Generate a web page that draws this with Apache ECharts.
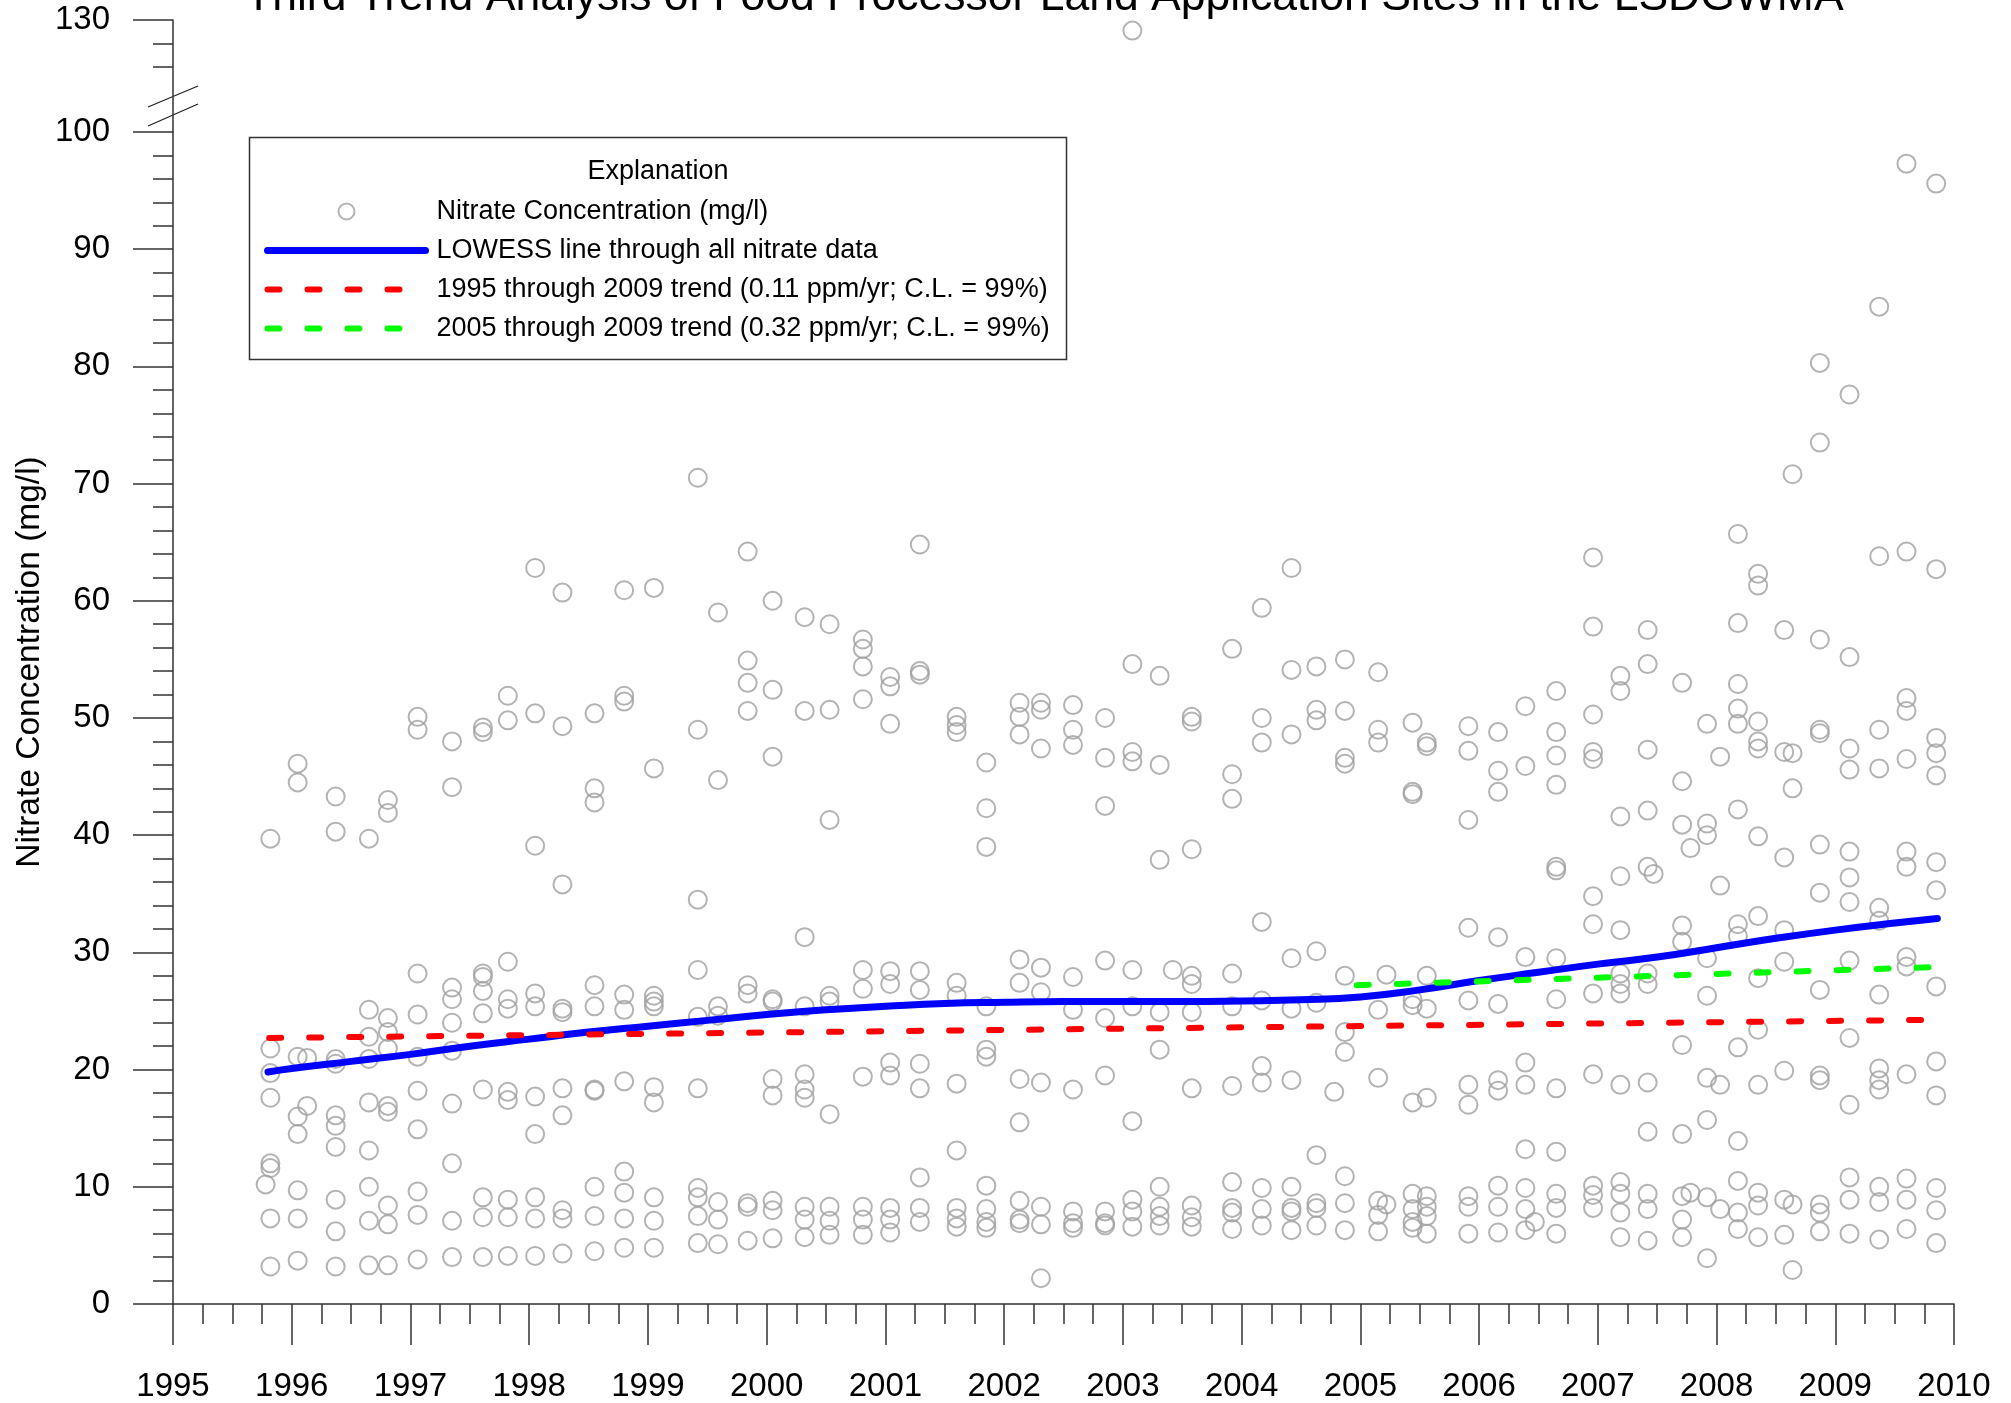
<!DOCTYPE html>
<html><head><meta charset="utf-8">
<script src="https://cdn.jsdelivr.net/npm/echarts@6/dist/echarts.min.js"></script>
<style>html,body{margin:0;padding:0;background:#fff}#c{width:2011px;height:1403px}</style>
</head><body><div id="c"></div>
<script>
// ---- data (decimal year of sampling round, nitrate values mg/l) ----
const sampleDates = [
  1995.78, 1995.82, 1996.05, 1996.13, 1996.37, 1996.65, 1996.81, 1997.06, 1997.35, 1997.61,
  1997.82, 1998.05, 1998.28, 1998.55, 1998.80, 1999.05, 1999.42, 1999.59, 1999.84, 2000.05,
  2000.32, 2000.53, 2000.81, 2001.04, 2001.29, 2001.60, 2001.85, 2002.13, 2002.31, 2002.58,
  2002.85, 2003.08, 2003.31, 2003.42, 2003.58, 2003.92, 2004.17, 2004.42, 2004.63, 2004.78,
  2004.87, 2005.15, 2005.22, 2005.44, 2005.56, 2005.91, 2006.16, 2006.39, 2006.47, 2006.65,
  2006.96, 2007.19, 2007.42, 2007.47, 2007.71, 2007.78, 2007.92, 2008.03, 2008.18, 2008.35,
  2008.57, 2008.64, 2008.87, 2009.12, 2009.37, 2009.60, 2009.85
];
const nitrateValues = [
  [10.2],
  [39.7, 21.8, 19.7, 17.6, 12.0, 11.6, 7.3, 3.2],
  [46.1, 44.5, 21.1, 16.0, 14.5, 9.7, 7.3, 3.7],
  [21.0, 16.9],
  [43.3, 40.3, 20.9, 20.5, 16.1, 15.2, 13.4, 8.9, 6.2, 3.2],
  [39.7, 25.1, 22.8, 20.9, 17.2, 13.1, 10.0, 7.1, 3.3],
  [43.0, 41.9, 24.4, 23.2, 21.8, 16.9, 16.4, 8.4, 6.8, 3.3],
  [50.1, 49.0, 28.2, 24.7, 21.1, 18.2, 14.9, 9.6, 7.6, 3.8],
  [48.0, 44.1, 27.0, 26.0, 24.0, 21.6, 17.1, 12.0, 7.1, 4.0],
  [49.2, 48.8, 28.2, 27.9, 26.7, 24.8, 18.3, 9.1, 7.4, 4.0],
  [51.9, 49.8, 29.2, 26.0, 25.2, 18.1, 17.4, 8.9, 7.4, 4.1],
  [62.8, 50.4, 39.1, 26.5, 25.4, 17.7, 14.5, 9.1, 7.3, 4.1],
  [60.7, 49.3, 35.8, 25.2, 24.9, 18.4, 16.1, 8.0, 7.3, 4.3],
  [50.4, 44.0, 42.8, 27.2, 25.4, 18.3, 18.2, 10.0, 7.5, 4.5],
  [60.9, 51.9, 51.4, 26.4, 25.1, 19.0, 11.3, 9.5, 7.3, 4.8],
  [61.1, 45.7, 26.3, 25.8, 25.4, 18.5, 17.2, 9.1, 7.1, 4.8],
  [70.5, 49.0, 34.5, 28.5, 24.5, 18.4, 9.9, 9.1, 7.5, 5.2],
  [59.0, 44.7, 25.4, 24.6, 8.7, 7.2, 5.1],
  [64.2, 54.9, 53.0, 50.6, 27.2, 26.5, 8.6, 8.3, 5.4],
  [60.0, 52.4, 46.7, 26.0, 25.8, 19.2, 17.8, 8.8, 8.0, 5.6],
  [58.6, 50.6, 31.3, 25.4, 19.6, 18.3, 17.6, 8.3, 7.2, 5.7],
  [58.0, 50.7, 41.3, 26.3, 25.8, 16.2, 8.3, 7.1, 5.9],
  [56.7, 55.9, 54.4, 51.6, 28.5, 26.9, 19.4, 8.3, 7.2, 5.9],
  [53.5, 52.7, 49.5, 28.4, 27.3, 20.6, 19.5, 8.2, 7.2, 6.1],
  [64.8, 54.0, 53.7, 28.4, 26.8, 20.5, 18.4, 10.8, 8.2, 7.0],
  [50.1, 49.4, 48.8, 27.4, 26.3, 18.8, 13.1, 8.2, 7.3, 6.6],
  [46.2, 42.3, 39.0, 25.4, 21.7, 21.1, 10.1, 8.1, 7.0, 6.5],
  [51.3, 50.1, 48.6, 29.4, 27.4, 19.2, 15.5, 8.8, 7.2, 6.9],
  [51.3, 50.7, 47.4, 28.7, 26.6, 18.9, 8.3, 6.8, 2.2],
  [51.1, 49.0, 47.7, 27.9, 25.1, 18.3, 7.9, 6.9, 6.5],
  [50.0, 46.6, 42.5, 29.3, 24.4, 19.5, 7.9, 6.9, 6.7],
  [129.1, 54.6, 47.1, 46.3, 28.5, 25.4, 15.6, 8.9, 7.9, 6.6],
  [53.6, 46.0, 37.9, 24.9, 21.7, 10.0, 8.3, 7.5, 6.7],
  [28.5],
  [50.1, 49.7, 38.8, 28.0, 27.3, 24.9, 18.4, 8.4, 7.4, 6.6],
  [55.9, 45.2, 43.1, 28.2, 25.4, 18.6, 10.4, 8.2, 7.8, 6.4],
  [59.4, 50.0, 47.9, 32.6, 25.9, 20.3, 18.9, 9.9, 8.1, 6.7],
  [62.8, 54.1, 48.6, 29.5, 25.2, 19.1, 10.0, 8.2, 7.9, 6.3],
  [54.4, 50.7, 49.8, 30.1, 25.7, 12.7, 8.6, 8.2, 6.7],
  [18.1],
  [55.0, 50.6, 46.6, 46.1, 28.0, 23.2, 21.5, 10.9, 8.6, 6.3],
  [53.9, 49.0, 47.9, 25.1, 19.3, 8.8, 7.6, 6.2],
  [28.1, 8.5],
  [49.6, 43.7, 43.5, 26.0, 25.5, 17.2, 9.4, 8.1, 7.0, 6.5],
  [47.9, 47.6, 28.0, 25.2, 17.6, 9.2, 8.3, 7.5, 6.0],
  [49.3, 47.2, 41.3, 32.1, 25.9, 18.7, 17.0, 9.2, 8.3, 6.0],
  [48.8, 45.5, 43.7, 31.3, 25.6, 19.1, 18.2, 10.1, 8.3, 6.1],
  [51.0, 45.9, 29.6, 20.6, 18.7, 13.2, 9.9, 8.1, 6.3],
  [7.0],
  [52.3, 48.8, 46.8, 44.3, 37.3, 37.0, 29.5, 26.0, 18.4, 13.0, 9.4, 8.2, 6.0],
  [63.7, 57.8, 50.3, 47.1, 46.5, 34.8, 32.4, 26.5, 19.6, 10.1, 9.3, 8.2],
  [53.6, 52.3, 41.6, 36.5, 31.9, 28.2, 27.3, 26.5, 18.7, 10.4, 9.4, 7.8, 5.7],
  [57.5, 54.6, 47.3, 42.1, 37.3, 28.2, 27.3, 18.9, 14.7, 9.4, 8.1, 5.4],
  [36.7],
  [53.0, 44.6, 40.9, 32.3, 30.9, 22.1, 14.5, 9.2, 7.2, 5.7],
  [38.9, 9.5],
  [49.5, 41.0, 40.0, 29.5, 26.3, 19.3, 15.7, 9.1, 3.9],
  [46.7, 35.7, 18.7, 8.1],
  [65.7, 58.1, 52.9, 50.8, 49.5, 42.2, 32.4, 31.4, 21.9, 13.9, 10.5, 7.8, 6.4],
  [62.3, 61.3, 49.7, 48.0, 47.4, 39.9, 33.1, 27.8, 23.4, 18.7, 9.5, 8.4, 5.7],
  [57.5, 47.1, 38.1, 31.9, 29.2, 19.9, 8.9, 5.9],
  [70.8, 47.0, 44.0, 8.5, 2.9],
  [80.3, 73.5, 56.7, 49.0, 48.7, 39.2, 35.1, 26.8, 19.5, 19.1, 8.5, 7.8, 6.2],
  [77.6, 55.2, 47.4, 45.6, 38.6, 36.4, 34.3, 29.3, 22.7, 17.0, 10.8, 8.9, 6.0],
  [85.1, 63.8, 49.0, 45.7, 33.8, 32.7, 26.4, 20.1, 19.1, 18.3, 10.0, 8.7, 5.5],
  [97.3, 64.2, 51.7, 50.6, 46.5, 38.6, 37.3, 29.6, 28.8, 19.6, 10.7, 8.9, 6.4],
  [95.6, 62.7, 48.3, 47.0, 45.1, 37.7, 35.3, 27.1, 20.7, 17.8, 9.9, 8.0, 5.2]
];
const lowessYears  = [1995.8, 1996.0, 1996.5, 1997.0, 1997.5, 1998.0, 1998.5, 1999.0, 1999.5, 2000.0,
                      2000.5, 2001.0, 2001.5, 2002.0, 2002.5, 2003.0, 2003.5, 2004.0, 2004.5, 2005.0,
                      2005.5, 2006.0, 2006.5, 2007.0, 2007.5, 2008.0, 2008.5, 2009.0, 2009.5, 2009.86];
const lowessValues = [19.8, 20.1, 20.7, 21.3, 22.0, 22.6, 23.2, 23.7, 24.2, 24.7,
                      25.1, 25.4, 25.65, 25.75, 25.8, 25.8, 25.8, 25.85, 25.95, 26.2,
                      26.8, 27.6, 28.3, 29.0, 29.6, 30.4, 31.2, 31.9, 32.5, 32.9];
const trend1995Years = [1995.81, 2009.85];
const trend1995Values = [22.7, 24.25];
const trend2005Years = [2004.97, 2009.85];
const trend2005Values = [27.2, 28.75];
const yearTicks = { min: 1995, max: 2010, step: 1 };
const legendNames = [
  'Nitrate Concentration (mg/l)',
  'LOWESS line through all nitrate data',
  '1995 through 2009 trend (0.11 ppm/yr; C.L. = 99%)',
  '2005 through 2009 trend (0.32 ppm/yr; C.L. = 99%)'
];

// ---- chart ----
const FONT = '"Liberation Sans", Arial, Helvetica, sans-serif';
const AX = '#333';
const zip = (xs, ys) => xs.map((x, i) => [x, ys[i]]);
const lowerPts = [], upperPts = [];
sampleDates.forEach((d, i) => nitrateValues[i].forEach(v => (v > 100 ? upperPts : lowerPts).push([d, v])));

const LOW_TOP = 132, LOW_H = 1173, UP_TOP = 20, UP_H = 112;
const upperMin = 130 - UP_H * 100 / LOW_H;

const chart = echarts.init(document.getElementById('c'));
const scatterStyle = { color: 'rgba(0,0,0,0)', borderColor: '#a0a0a0', borderWidth: 2 };
const labelStyle = { color: '#000', fontSize: 33, fontFamily: FONT };
const legendLineItem = name => ({ name, itemStyle: { opacity: 0 }, lineStyle: { width: 'inherit' } });
chart.setOption({
  animation: false,
  backgroundColor: '#fff',
  title: {
    text: 'Third Trend Analysis of Food Processor Land Application Sites in the LSDGWMA',
    left: 245, top: -25, padding: 0,
    textStyle: { fontSize: 44.5, fontWeight: 'normal', color: '#000', fontFamily: FONT }
  },
  grid: [
    { left: 173, right: 57, top: LOW_TOP, height: LOW_H },
    { left: 173, right: 57, top: UP_TOP, height: UP_H }
  ],
  xAxis: [
    { type: 'value', gridIndex: 0, min: yearTicks.min, max: yearTicks.max, interval: yearTicks.step,
      axisLine: { show: true, onZero: false, lineStyle: { color: AX, width: 1.5 } },
      axisTick: { show: true, length: 41, lineStyle: { color: AX, width: 1.5 } },
      minorTick: { show: true, splitNumber: 4, length: 20, lineStyle: { color: AX, width: 1.5 } },
      splitLine: { show: false },
      axisLabel: Object.assign({ margin: 66, formatter: v => String(v) }, labelStyle) },
    { type: 'value', gridIndex: 1, min: yearTicks.min, max: yearTicks.max, show: false }
  ],
  yAxis: [
    { type: 'value', gridIndex: 0, min: 0, max: 100, interval: 10,
      axisLine: { show: true, lineStyle: { color: AX, width: 1.5 } },
      axisTick: { show: true, length: 40, lineStyle: { color: AX, width: 1.5 } },
      minorTick: { show: true, splitNumber: 5, length: 20, lineStyle: { color: AX, width: 1.5 } },
      splitLine: { show: false },
      axisLabel: Object.assign({ margin: 63 }, labelStyle) },
    { type: 'value', gridIndex: 1, min: upperMin, max: 130, position: 'left',
      axisLine: { show: true, lineStyle: { color: AX, width: 1.5 } },
      axisTick: { show: true, length: 40, customValues: [130], lineStyle: { color: AX, width: 1.5 } },
      splitLine: { show: false },
      axisLabel: Object.assign({ margin: 63, customValues: [130] }, labelStyle) },
    { type: 'value', gridIndex: 1, min: upperMin, max: 130, position: 'left',
      axisLine: { show: false },
      axisTick: { show: true, length: 20, customValues: [126, 128], lineStyle: { color: AX, width: 1.5 } },
      splitLine: { show: false },
      axisLabel: { show: false } }
  ],
  legend: {
    orient: 'vertical', left: 264, top: 198, padding: 0,
    itemWidth: 158, itemHeight: 16, itemGap: 12, selectedMode: false,
    data: [legendNames[0], legendLineItem(legendNames[1]), legendLineItem(legendNames[2]), legendLineItem(legendNames[3])],
    textStyle: { fontSize: 27, fontFamily: FONT, color: '#000', padding: [0, 0, 0, 6] }
  },
  graphic: [
    { type: 'rect', z: 0, shape: { x: 249.5, y: 137.5, width: 817, height: 222 },
      style: { fill: '#fff', stroke: AX, lineWidth: 1.5 } },
    { type: 'text', z: 1, x: 658, y: 172,
      style: { text: 'Explanation', fontSize: 27, fontFamily: FONT, fill: '#000', align: 'center', verticalAlign: 'middle' } },
    { type: 'text', x: 30, y: 662, rotation: Math.PI / 2,
      style: { text: 'Nitrate Concentration (mg/l)', fontSize: 33.5, fontFamily: FONT, fill: '#000', align: 'center', verticalAlign: 'middle' } },
    { type: 'line', shape: { x1: 148, y1: 107, x2: 198, y2: 86 }, style: { stroke: '#222', lineWidth: 1.3 } },
    { type: 'line', shape: { x1: 148, y1: 126, x2: 198, y2: 104 }, style: { stroke: '#222', lineWidth: 1.3 } }
  ],
  series: [
    { name: legendNames[0], type: 'scatter', xAxisIndex: 0, yAxisIndex: 0, z: 2,
      symbol: 'circle', symbolSize: 18, itemStyle: scatterStyle, data: lowerPts },
    { name: legendNames[0], type: 'scatter', xAxisIndex: 1, yAxisIndex: 1, z: 2,
      symbol: 'circle', symbolSize: 18, itemStyle: scatterStyle, data: upperPts },
    { name: legendNames[1], type: 'line', xAxisIndex: 0, yAxisIndex: 0, z: 3,
      smooth: true, symbol: 'none', showSymbol: false,
      lineStyle: { color: '#0000ff', width: 7, cap: 'round' }, itemStyle: { color: '#0000ff' },
      data: zip(lowessYears, lowessValues) },
    { name: legendNames[2], type: 'line', xAxisIndex: 0, yAxisIndex: 0, z: 3,
      symbol: 'none', showSymbol: false,
      lineStyle: { color: '#ff0000', width: 6, type: [12, 28], cap: 'round' }, itemStyle: { color: '#ff0000' },
      data: zip(trend1995Years, trend1995Values) },
    { name: legendNames[3], type: 'line', xAxisIndex: 0, yAxisIndex: 0, z: 3,
      symbol: 'none', showSymbol: false,
      lineStyle: { color: '#00ff00', width: 6, type: [12, 28], cap: 'round' }, itemStyle: { color: '#00ff00' },
      data: zip(trend2005Years, trend2005Values) }
  ]
});
</script></body></html>
